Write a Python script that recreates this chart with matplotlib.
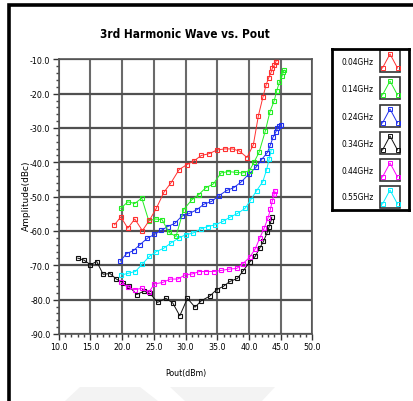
import matplotlib
matplotlib.use("Agg")
import matplotlib.pyplot as plt
from matplotlib.patches import Rectangle, Polygon
from matplotlib.ticker import MultipleLocator, FormatStrFormatter

NARROW = ['DejaVu Sans']

labels = ["0.04GHz", "0.14GHz", "0.24GHz", "0.34GHz", "0.44GHz", "0.55GHz"]
colors = ["#ff3030", "#22ee22", "#1f2fee", "#111111", "#ff00ff", "#00f0ff"]

x_004 = [18.8, 19.8, 20.9, 22.0, 23.2, 24.3, 25.4, 26.6, 27.7, 29.0, 30.2, 31.4, 32.5, 33.7, 35.0,
         36.2, 37.4, 38.5, 39.7, 40.7, 41.5, 42.2, 42.7, 43.1, 43.5, 43.7, 44.0, 44.2, 44.3]
y_004 = [-58.2, -55.9, -59.2, -56.5, -59.9, -56.9, -53.4, -48.7, -46.0, -42.1, -40.7, -39.5, -38.0, -37.5, -36.4,
         -36.1, -36.1, -36.7, -38.6, -34.9, -26.4, -21.1, -17.5, -15.5, -13.8, -12.6, -11.7, -10.9, -10.5]

x_014 = [19.8, 20.9, 22.0, 23.1, 24.2, 25.3, 26.3, 27.4, 28.5, 29.7, 31.0, 32.1, 33.2, 34.4, 35.6,
         36.7, 37.9, 39.0, 40.1, 40.8, 41.6, 42.6, 43.3, 44.0, 44.4, 44.8, 45.2, 45.4, 45.6]
y_014 = [-53.4, -51.5, -52.0, -50.4, -57.0, -56.5, -56.7, -60.4, -61.6, -53.8, -50.9, -49.4, -47.4, -46.3, -43.1,
         -42.7, -42.9, -43.1, -42.4, -40.0, -37.1, -30.8, -25.4, -22.0, -19.1, -16.7, -15.0, -13.8, -13.2]

x_024 = [19.7, 20.7, 21.8, 22.8, 24.0, 25.1, 26.2, 27.2, 28.3, 29.4, 30.6, 31.8, 32.9, 34.1, 35.3,
         36.5, 37.6, 38.8, 40.0, 41.1, 42.0, 42.9, 43.4, 43.8, 44.2, 44.5, 44.8, 45.0]
y_024 = [-68.8, -66.6, -65.7, -64.0, -62.1, -61.0, -59.8, -58.7, -57.8, -55.7, -54.9, -53.8, -52.2, -51.4, -49.7,
         -48.2, -47.4, -45.7, -43.4, -41.5, -39.2, -37.2, -34.9, -32.7, -31.3, -30.1, -29.3, -29.1]

x_034 = [13.0, 14.0, 15.0, 16.0, 17.0, 18.1, 19.1, 20.1, 21.1, 22.3, 23.5, 24.4, 25.6, 26.9, 28.0, 29.1,
         30.3, 31.5, 32.5, 33.8, 34.9, 36.0, 37.0, 38.2, 39.1, 40.1, 41.0, 41.7, 42.3, 42.9, 43.2, 43.5, 43.6]
y_034 = [-67.9, -68.5, -69.8, -68.9, -72.6, -72.4, -74.0, -75.1, -76.1, -78.5, -77.5, -78.2, -80.8, -79.6, -81.0, -84.7,
         -79.6, -82.2, -80.3, -79.0, -77.1, -76.1, -74.7, -73.8, -71.6, -69.1, -67.4, -65.0, -63.0, -60.4, -58.7, -57.0, -56.0]

x_044 = [19.9, 20.9, 22.0, 23.1, 24.2, 25.1, 26.4, 27.6, 28.8, 29.9, 31.1, 32.2, 33.3, 34.5, 35.6,
         36.9, 38.1, 39.0, 40.1, 41.0, 41.7, 42.4, 43.0, 43.4, 43.7, 44.0, 44.1]
y_044 = [-75.0, -76.4, -77.1, -76.7, -77.9, -75.4, -75.0, -74.0, -74.0, -72.8, -72.5, -71.8, -71.8, -71.8, -71.5,
         -71.1, -70.9, -69.6, -67.7, -65.2, -62.1, -59.2, -56.3, -53.6, -51.2, -49.2, -48.3]

x_055 = [19.9, 21.0, 22.1, 23.2, 24.3, 25.4, 26.6, 27.7, 28.9, 30.0, 31.2, 32.4, 33.5, 34.7, 35.9,
         37.0, 38.2, 39.4, 40.3, 41.2, 42.2, 42.8, 43.2, 43.5]
y_055 = [-72.8, -72.3, -71.8, -69.6, -67.4, -66.0, -65.0, -63.5, -62.1, -61.1, -60.6, -59.4, -58.7, -58.2, -57.2,
         -56.0, -54.9, -53.4, -50.9, -48.3, -45.6, -42.1, -39.0, -36.6]

series = [(x_004, y_004), (x_014, y_014), (x_024, y_024), (x_034, y_034), (x_044, y_044), (x_055, y_055)]
draw_order = [3, 4, 5, 2, 1, 0]

fig = plt.figure(figsize=(4.13, 4.02), dpi=100)
W, H = 413.0, 402.0

def fx(px):
    return px / W

def fy(py):
    return 1 - py / H

fig.patches.append(Rectangle((fx(9), -0.1), 1.2, fy(6) + 0.1, transform=fig.transFigure,
                             fill=False, lw=2.6, ec='black'))
fig.patches.append(Polygon([[fx(65), fy(402)], [fx(80), fy(388)], [fx(140), fy(388)], [fx(158), fy(402)]],
                           closed=True, transform=fig.transFigure, fc='#f3f3f3', ec='none'))
fig.patches.append(Polygon([[fx(170), fy(388)], [fx(275), fy(388)], [fx(262), fy(402)], [fx(185), fy(402)]],
                           closed=True, transform=fig.transFigure, fc='#f3f3f3', ec='none'))

ax = fig.add_axes([fx(58.7), fy(335), fx(312.3) - fx(58.7), fy(60.3) - fy(335)])
ax.set_xlim(10, 50)
ax.set_ylim(-90, -10)
ax.xaxis.set_major_locator(MultipleLocator(5))
ax.xaxis.set_minor_locator(MultipleLocator(1))
ax.yaxis.set_major_locator(MultipleLocator(10))
ax.yaxis.set_minor_locator(MultipleLocator(2))
ax.xaxis.set_major_formatter(FormatStrFormatter('%.1f'))
ax.yaxis.set_major_formatter(FormatStrFormatter('%.1f'))
ax.tick_params(axis='both', which='major', labelsize=6.3, length=4, width=1, color='#333333', pad=2)
ax.tick_params(axis='both', which='minor', length=2.5, width=1, color='#444444')
for lab in ax.get_xticklabels() + ax.get_yticklabels():
    lab.set_family(NARROW)
    lab.set_stretch('condensed')
ax.grid(True, which='major', axis='x', color='#6a6a6a', lw=1.5)
ax.grid(True, which='major', axis='y', color='#505050', lw=1.6)
for s in ax.spines.values():
    s.set_color('#555555')
    s.set_linewidth(1.2)
ax.set_axisbelow(True)

for i in draw_order:
    xs, ys = series[i]
    ax.plot(xs, ys, color=colors[i], lw=0.7, marker='s', ms=3.3, mfc='none', mew=0.8)

fig.text(fx(185), fy(35), "3rd Harmonic Wave vs. Pout", ha='center', va='center',
         fontsize=8.5, fontweight='bold', family=NARROW, stretch='condensed')
fig.text(fx(186), fy(374), "Pout(dBm)", ha='center', va='center', fontsize=6.3, family=NARROW,
         stretch='condensed')
fig.text(fx(26), fy(196), "Amplitude(dBc)", ha='center', va='center', rotation=90, fontsize=6.5,
         family=['DejaVu Sans'])

lax = fig.add_axes([fx(332), fy(211), fx(409) - fx(332), fy(50) - fy(211)])
lax.set_xlim(332, 409)
lax.set_ylim(211, 50)
lax.set_xticks([])
lax.set_yticks([])
for s in lax.spines.values():
    s.set_linewidth(2)
    s.set_color('black')
row_y = [62, 89, 117, 144, 171, 198]
for i, lab in enumerate(labels):
    yc = row_y[i]
    lax.text(358, yc, lab, ha='center', va='center', fontsize=6, family=NARROW, stretch='condensed')
    lax.add_patch(Rectangle((380, yc - 11), 20, 22, fill=False, ec='#333333', lw=1.2))
    lax.plot([382.5, 390, 397.5], [yc + 7, yc - 7, yc + 7], color=colors[i], lw=0.7,
             marker='s', ms=2.6, mfc='none', mew=0.7)

fig.savefig("out.png", dpi=100)
